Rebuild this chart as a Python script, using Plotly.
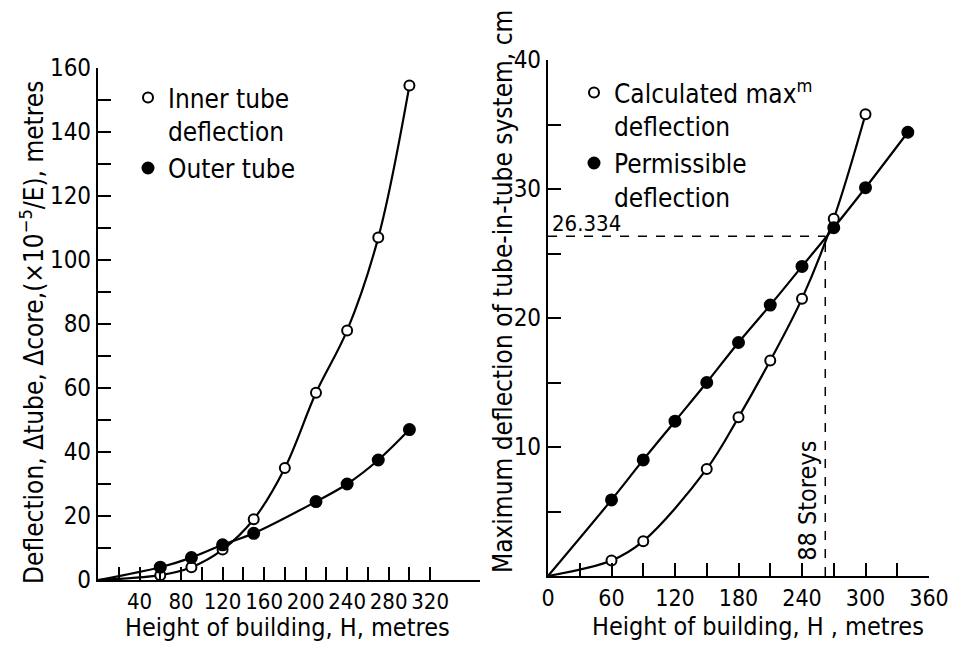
import plotly.graph_objects as go

# ---------------- data ----------------
# Left chart: deflection (x10^-5/E) vs building height
left_h = [60, 90, 120, 150, 180, 210, 240, 270, 300]
inner_tube = [1.5, 4.0, 9.5, 19.0, 35.0, 58.5, 78.0, 107.0, 154.5]
outer_h = [60, 90, 120, 150, 210, 240, 270, 300]
outer_tube = [4.0, 7.0, 11.0, 14.6, 24.5, 30.0, 37.5, 47.0]

# Right chart: maximum deflection of tube-in-tube system (cm)
calc_h = [60, 90, 150, 180, 210, 240, 270, 300]
calc_defl = [1.2, 2.7, 8.3, 12.3, 16.7, 21.5, 27.7, 35.8]
perm_h = [60, 90, 120, 150, 180, 210, 240, 270, 300, 340]
perm_defl = [5.9, 9.0, 12.0, 15.0, 18.1, 21.0, 24.0, 27.0, 30.1, 34.4]

cross_defl = 26.334
cross_h = 262
cross_label = "26.334"
storeys_label = "88 Storeys"

left_xticks = list(range(20, 340, 20))
left_xlabels = [str(v) if v % 40 == 0 else " " for v in left_xticks]
left_yticks = list(range(0, 170, 10))
left_ylabels = [str(v) if v % 20 == 0 else " " for v in left_yticks]
right_xticks = list(range(0, 390, 30))
right_xlabels = [str(v) if v % 60 == 0 else " " for v in right_xticks]
right_yticks = list(range(0, 45, 5))
right_ylabels = [str(v) if (v % 10 == 0 and v > 0) else " " for v in right_yticks]

FONT = "DejaVu Sans Condensed, DejaVu Sans, sans-serif"
FS = 26
TFS = 24
# page body has an 8px margin; figure is sized to fit inside the window
OFF = 8
W, H = 957 - 2 * OFF, 649 - 2 * OFF

def px(x):
    return (x - OFF) / W

def py(y):
    return 1 - (y - OFF) / H

fig = go.Figure()

def curve(x, y, xa, ya):
    fig.add_trace(go.Scatter(x=[0] + x, y=[0] + y, mode="lines",
                             line=dict(color="black", width=2.2, shape="spline", smoothing=1.0),
                             xaxis=xa, yaxis=ya, showlegend=False, hoverinfo="skip"))

def marks(x, y, xa, ya, filled, name, legend):
    fig.add_trace(go.Scatter(x=x, y=y, mode="markers", name=name, legend=legend,
                             marker=dict(symbol="circle",
                                         size=11 if filled else 10,
                                         color="black" if filled else "white",
                                         line=dict(color="black", width=2)),
                             xaxis=xa, yaxis=ya, showlegend=True))

curve(left_h, inner_tube, "x", "y")
curve(outer_h, outer_tube, "x", "y")
curve(calc_h, calc_defl, "x2", "y2")
curve(perm_h, perm_defl, "x2", "y2")
marks(left_h, inner_tube, "x", "y", False, "Inner tube<br>deflection", "legend")
marks(outer_h, outer_tube, "x", "y", True, "Outer tube", "legend")
marks(calc_h, calc_defl, "x2", "y2", False, "Calculated max<sup>m</sup><br>deflection", "legend2")
marks(perm_h, perm_defl, "x2", "y2", True, "Permissible<br>deflection", "legend2")

# dashed guide lines
fig.add_shape(type="line", xref="x2", yref="y2", x0=0, x1=cross_h, y0=cross_defl, y1=cross_defl,
              line=dict(color="black", width=1.5, dash="dash"))
fig.add_shape(type="line", xref="x2", yref="y2", x0=cross_h, x1=cross_h, y0=0, y1=cross_defl,
              line=dict(color="black", width=1.5, dash="dash"))

fig.add_annotation(x=2, y=cross_defl - 0.1, xref="x2", yref="y2", text=cross_label, showarrow=False,
                   xanchor="left", yanchor="bottom", font=dict(size=22, family=FONT, color="black"))
fig.add_annotation(x=cross_h - 2, y=1.0, xref="x2", yref="y2", text=storeys_label, showarrow=False,
                   textangle=-90, xanchor="right", yanchor="bottom", font=dict(size=25, family=FONT, color="black"))

# axis titles
def title(x, y, text, angle=0, size=FS):
    fig.add_annotation(x=px(x), y=py(y), xref="paper", yref="paper", text=text, showarrow=False,
                       textangle=angle, xanchor="center", yanchor="middle",
                       font=dict(size=size, family=FONT, color="black"))

title(287, 627, "Height of building, H, metres", 0, 25)
title(758, 626, "Height of building, H , metres", 0, 25)
title(32, 333, "Deflection, Δtube, Δcore,(×10<sup>−5</sup>/E), metres", -90)
title(503, 292, "Maximum deflection of tube-in-tube system, cm", -90)

axis_common = dict(showgrid=False, zeroline=False, showline=True, linecolor="black", linewidth=2.2,
                   ticks="inside", ticklen=13, tickwidth=2, tickcolor="black", automargin=False,
                   tickangle=0, tickmode="array")

def tf(size):
    return dict(tickfont=dict(size=size, family=FONT, color="black"))

fig.update_layout(
    width=W, height=H, margin=dict(l=0, r=0, t=0, b=0, autoexpand=False),
    paper_bgcolor="white", plot_bgcolor="white",
    font=dict(family=FONT, color="black", size=FS),
    xaxis=dict(domain=[px(98), px(480)], range=[0, 368], anchor="y",
               tickvals=left_xticks, ticktext=left_xlabels, **axis_common, **tf(22)),
    yaxis=dict(domain=[py(580), py(68)], range=[0, 160], anchor="x",
               tickvals=left_yticks, ticktext=left_ylabels, **axis_common, **tf(TFS)),
    xaxis2=dict(domain=[px(548), px(929)], range=[0, 360], anchor="y2",
                tickvals=right_xticks, ticktext=right_xlabels, **axis_common, **tf(23)),
    yaxis2=dict(domain=[py(576), py(60)], range=[0, 40], anchor="x2",
                tickvals=right_yticks, ticktext=right_ylabels, **axis_common, **tf(TFS)),
    legend=dict(x=px(128), y=py(74), xanchor="left", yanchor="top", bgcolor="rgba(0,0,0,0)",
                font=dict(size=FS, family=FONT, color="black"), valign="top", itemwidth=30,
                tracegroupgap=0),
    legend2=dict(x=px(574), y=py(69), xanchor="left", yanchor="top", bgcolor="rgba(0,0,0,0)",
                 font=dict(size=FS, family=FONT, color="black"), valign="top", itemwidth=30),
    showlegend=True,
)

fig.write_html("out.html")
